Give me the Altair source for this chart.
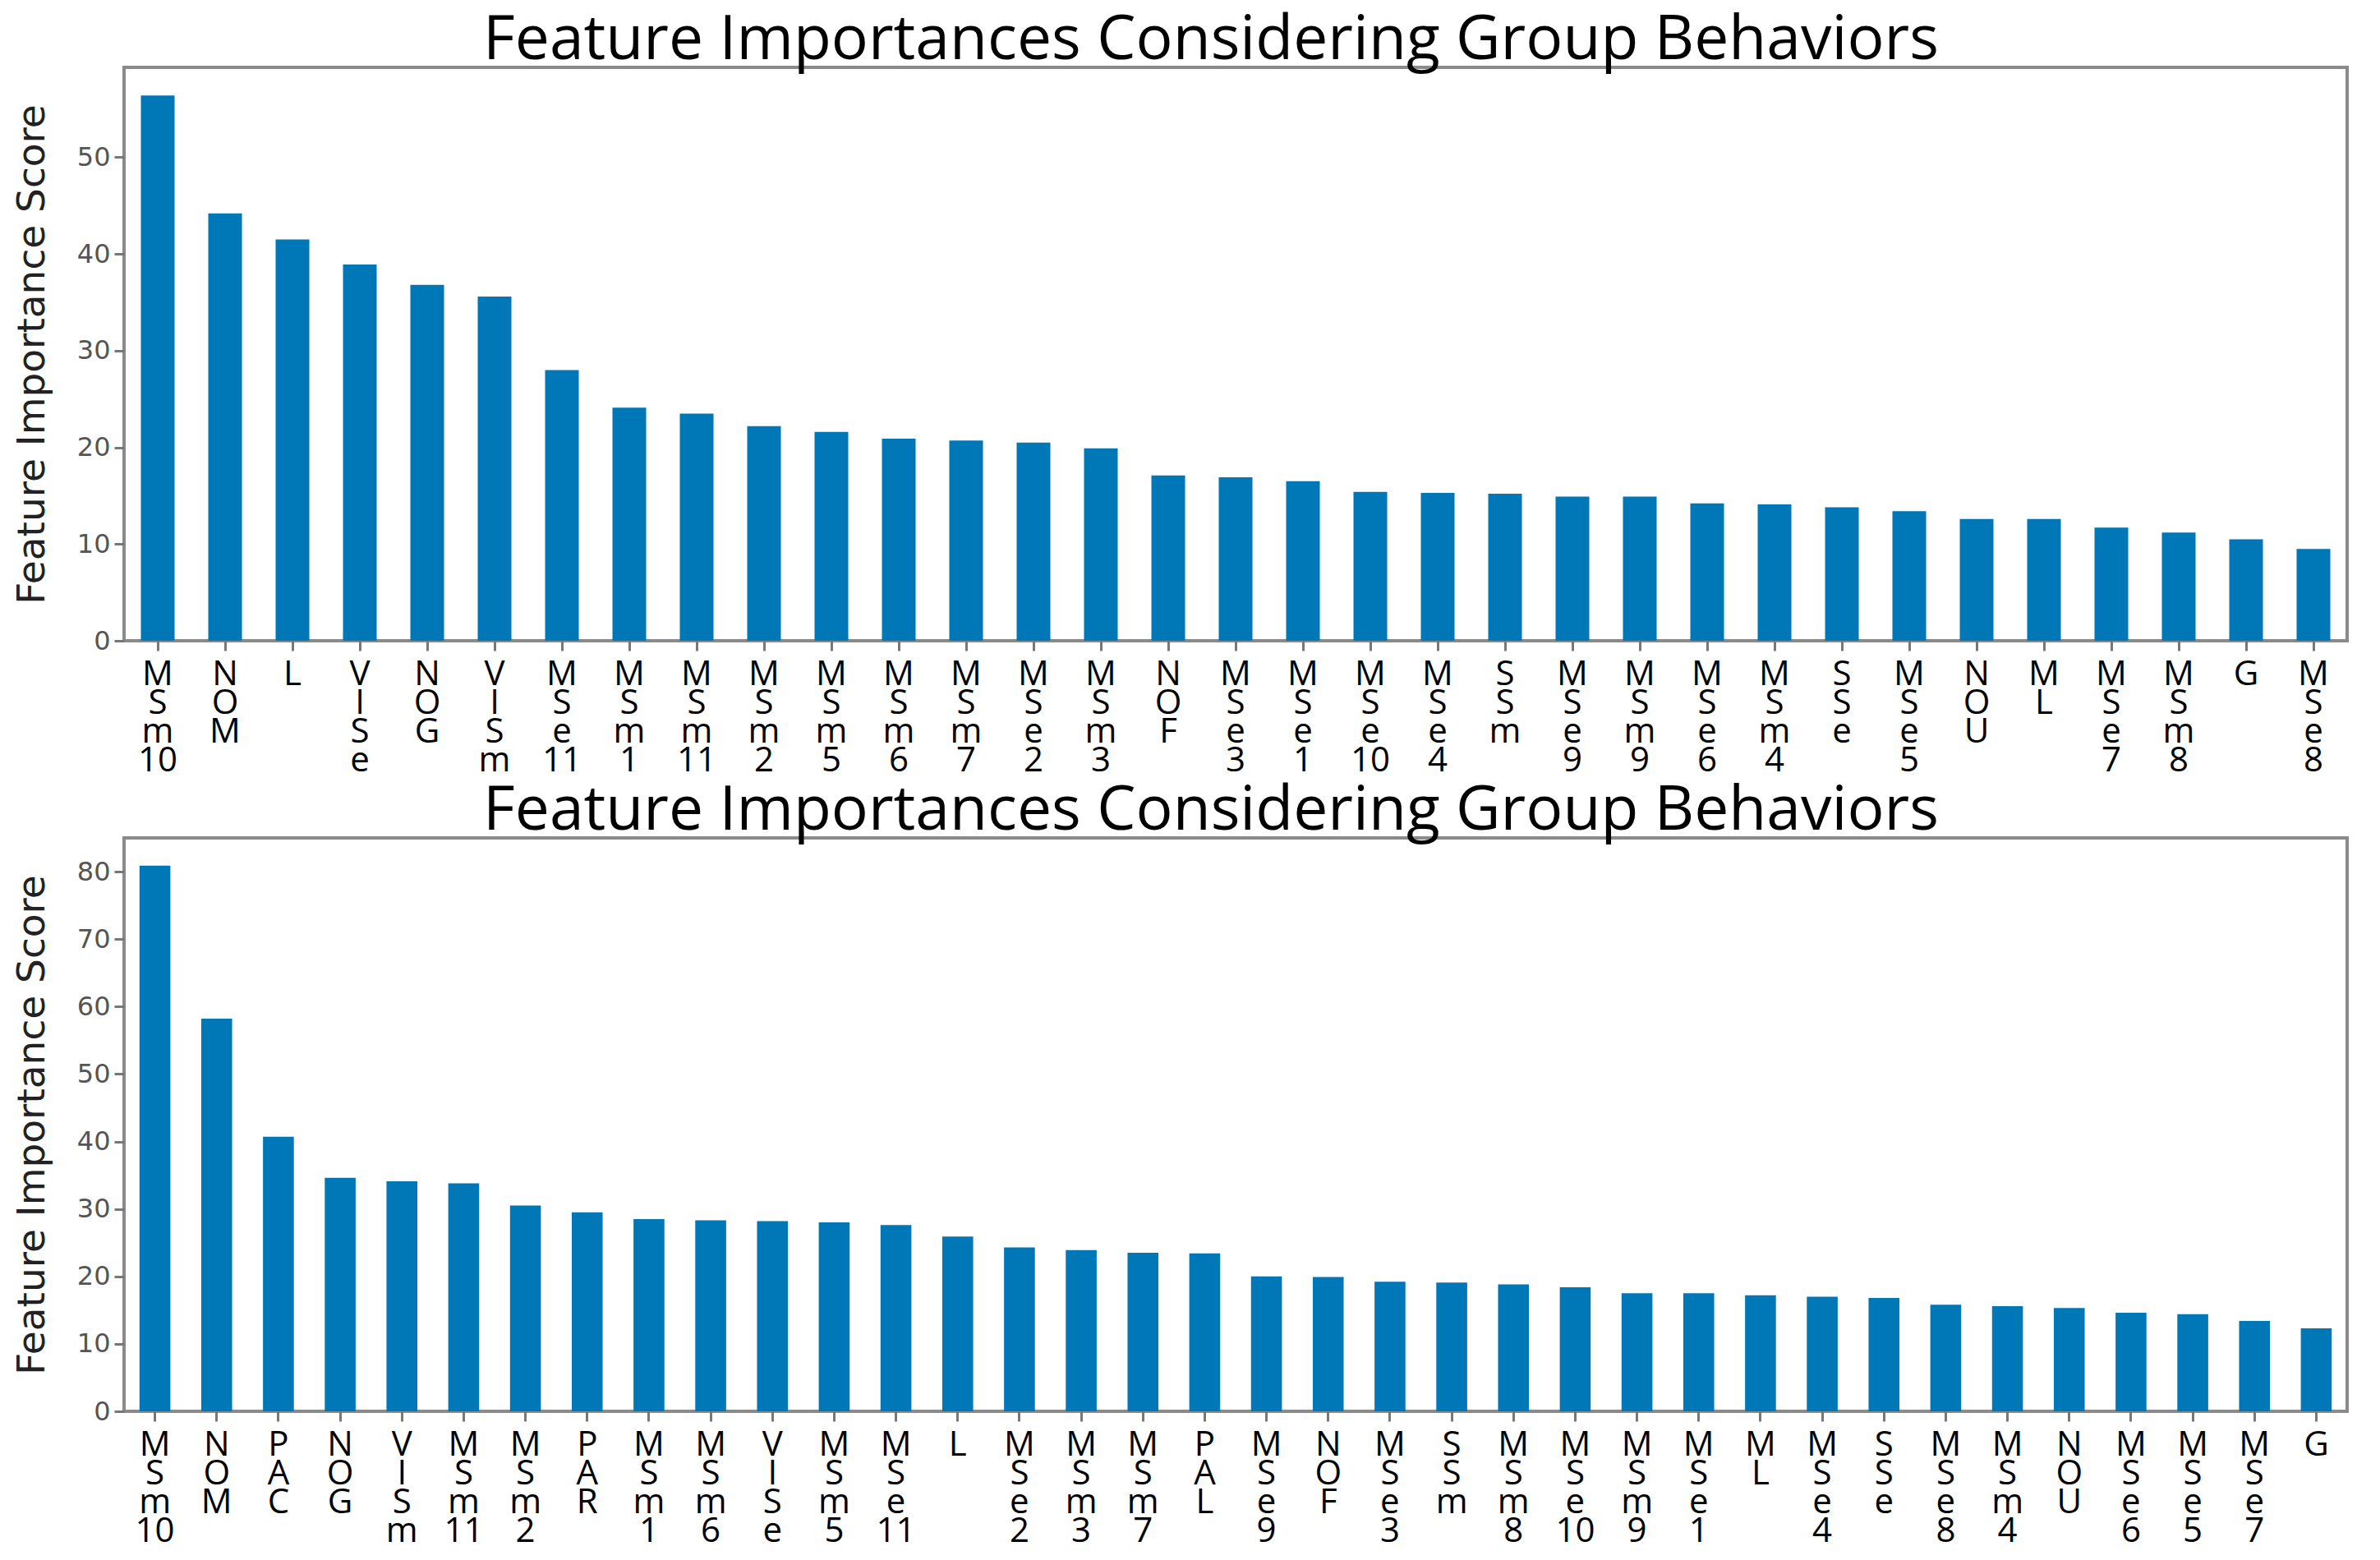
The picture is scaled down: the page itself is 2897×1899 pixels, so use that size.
import re
import altair as alt
import pandas as pd

TITLE = "Feature Importances Considering Group Behaviors"

top_names = ["MSm10", "NOM", "L", "VISe", "NOG", "VISm", "MSe11", "MSm1", "MSm11", "MSm2",
             "MSm5", "MSm6", "MSm7", "MSe2", "MSm3", "NOF", "MSe3", "MSe1", "MSe10", "MSe4",
             "SSm", "MSe9", "MSm9", "MSe6", "MSm4", "SSe", "MSe5", "NOU", "ML", "MSe7",
             "MSm8", "G", "MSe8"]
top_values = [56.4, 44.2, 41.5, 38.9, 36.8, 35.6, 28.0, 24.1, 23.5, 22.2,
              21.6, 20.9, 20.7, 20.5, 19.9, 17.1, 16.9, 16.5, 15.4, 15.3,
              15.2, 14.9, 14.9, 14.2, 14.1, 13.8, 13.4, 12.6, 12.6, 11.7,
              11.2, 10.5, 9.5]

bot_names = ["MSm10", "NOM", "PAC", "NOG", "VISm", "MSm11", "MSm2", "PAR", "MSm1", "MSm6",
             "VISe", "MSm5", "MSe11", "L", "MSe2", "MSm3", "MSm7", "PAL", "MSe9", "NOF",
             "MSe3", "SSm", "MSm8", "MSe10", "MSm9", "MSe1", "ML", "MSe4", "SSe", "MSe8",
             "MSm4", "NOU", "MSe6", "MSe5", "MSe7", "G"]
bot_values = [80.9, 58.2, 40.7, 34.6, 34.1, 33.8, 30.5, 29.5, 28.5, 28.3,
              28.2, 28.0, 27.6, 25.9, 24.3, 23.9, 23.5, 23.4, 20.0, 19.9,
              19.2, 19.1, 18.8, 18.4, 17.5, 17.5, 17.2, 17.0, 16.8, 15.8,
              15.6, 15.3, 14.6, 14.4, 13.4, 12.3]

top_ticks = [0, 10, 20, 30, 40, 50]
bot_ticks = [0, 10, 20, 30, 40, 50, 60, 70, 80]


def stacked(name):
    return " ".join(re.findall(r"\d+|\D", name))


def panel(names, values, ymax, ticks):
    df = pd.DataFrame({"feature": [stacked(n) for n in names], "score": values})
    return alt.Chart(
        df,
        title=alt.Title(TITLE, font="Open Sans", fontSize=75, fontWeight="normal",
                        color="black", anchor="middle", frame="group", offset=-6, dx=-30),
    ).mark_bar(color="#0077B6").encode(
        x=alt.X("feature:N", sort=None, title=None,
                scale=alt.Scale(paddingInner=0.5, paddingOuter=0.25),
                axis=alt.Axis(labelAngle=0, labelExpr="split(datum.label, ' ')",
                              labelFont="Open Sans", labelFontSize=42, labelLineHeight=35,
                              labelColor="black", labelPadding=8, labelOverlap=False,
                              labelBaseline="top", labelAlign="center",
                              tickSize=12, tickColor="#777", tickWidth=3, domain=False)),
        y=alt.Y("score:Q", title="Feature Importance Score",
                scale=alt.Scale(domain=[0, ymax], nice=False, zero=True),
                axis=alt.Axis(values=ticks, grid=False, domain=False,
                              labelFont="DejaVu Sans", labelFontSize=32, labelColor="#555",
                              labelPadding=5, tickSize=12, tickColor="#777", tickWidth=3,
                              titleFont="DejaVu Sans", titleFontSize=47, titleFontWeight="normal",
                              titleColor="#222", titlePadding=30)),
    ).properties(width=2706, height=698)


chart = alt.vconcat(
    panel(top_names, top_values, 59.3, top_ticks),
    panel(bot_names, bot_values, 85.0, bot_ticks),
    spacing=0,
).properties(
    padding={"top": 2, "left": 5, "right": 5, "bottom": 5}
).configure(
    background="white",
    view=alt.ViewConfig(stroke="#8a8a8a", strokeWidth=4),
)

chart.save("out.html", embed_options={"renderer": "svg", "actions": False})
